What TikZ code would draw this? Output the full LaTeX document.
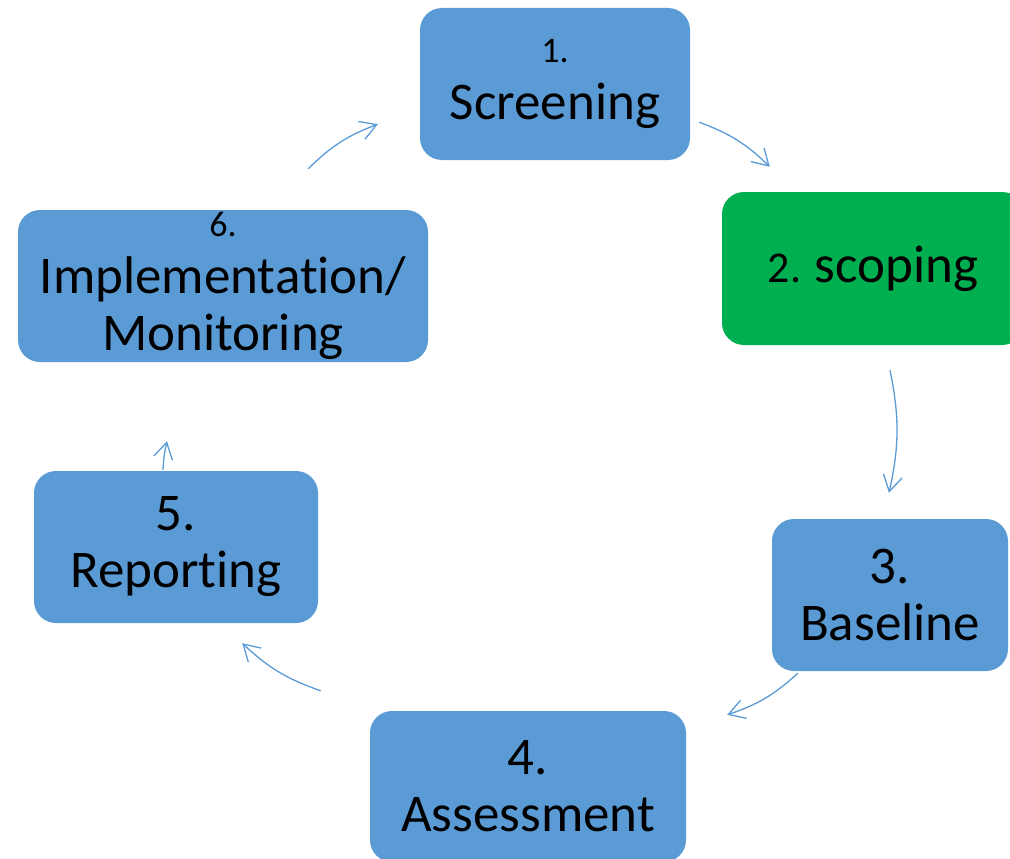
\documentclass[tikz,border=0pt]{standalone}
\usepackage{fontspec}
\setmainfont{Carlito}[RawFeature={-liga;-clig;-calt;-dlig}]
\usepackage{tikz}
\usetikzlibrary{arrows.meta,positioning,calc}
\definecolor{phaseblue}{HTML}{5B9BD5}
\definecolor{phasegreen}{HTML}{00B050}

\begin{document}
\begin{tikzpicture}[
    x=1pt, y=-1pt,
    phase/.style={fill=phaseblue, rounded corners=22pt, inner sep=0pt, align=center, text=black, font=\fontsize{53}{57}\selectfont},
    current/.style={phase, fill=phasegreen},
    arrow/.style={-{Straight Barb[length=16pt,width=19pt]}, line width=1.3pt, draw=phaseblue, bend left=12}
]
\useasboundingbox (0,0) rectangle (1010,859);
\clip (0,0) rectangle (1010,859);
\node[phase, minimum width=270, minimum height=152] (screen) at (555,84) {{\fontsize{36}{40}\selectfont 1.}\\Screening};
\node[current, minimum width=302, minimum height=153] (scope) at (873,268.5) {{\fontsize{44}{50}\selectfont 2. }scoping};
\node[phase, minimum width=236, minimum height=152] (base) at (890,595) {3.\\Baseline};
\node[phase, minimum width=316, minimum height=151] (assess) at (528,786.5) {4.\\Assessment};
\node[phase, minimum width=284, minimum height=152] (report) at (176,547) {5.\\Reporting};
\node[phase, minimum width=410, minimum height=152] (impl) at (223,286) {{\fontsize{36}{40}\selectfont 6.}\\Implementation/\\Monitoring};
\draw[arrow] ($(screen.south east)+(9,-38)$) to ($(scope.north west)+(48,-25)$);
\draw[arrow] ($(scope.south)+(17,25)$) to ($(base.north)+(-1,-26)$);
\draw[arrow] ($(base.south west)+(26,2)$) to ($(assess.north east)+(41,4)$);
\draw[arrow] ($(assess.north west)+(-49,-20)$) to ($(report.south east)+(-76,20)$);
\draw[arrow, bend left=5] ($(report.north)+(-13,-1)$) to ($(impl.south)+(-56,79)$);
\draw[arrow] ($(impl.north east)+(-120,-41)$) to ($(screen.south west)+(-42,-36)$);
\end{tikzpicture}
\end{document}
